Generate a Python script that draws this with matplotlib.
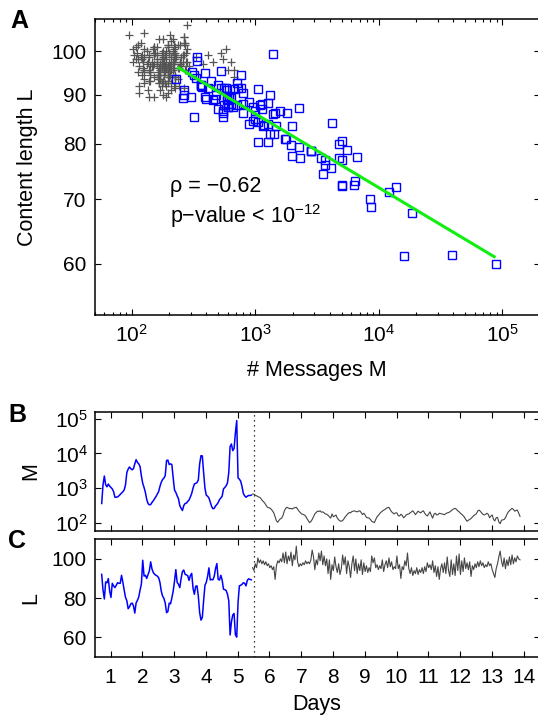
import numpy as np
import matplotlib
matplotlib.use('Agg')
import matplotlib.pyplot as plt
from matplotlib.ticker import LogLocator, NullLocator, FixedLocator, NullFormatter, FixedFormatter

plt.rcParams['font.family'] = ['Liberation Sans', 'DejaVu Sans']
plt.rcParams['mathtext.fontset'] = 'custom'
plt.rcParams['mathtext.rm'] = 'Liberation Sans'
plt.rcParams['mathtext.it'] = 'Liberation Sans:italic'
plt.rcParams['mathtext.bf'] = 'Liberation Sans:bold'
plt.rcParams['axes.unicode_minus'] = True

# ---------------- data ----------------
first_day = 0.72          # time of first hourly sample (days)
samples_per_day = 24

# log10 of number of messages M per hour, first period (blue)
logM_blue = [
    2.56, 3.10, 3.35, 3.10, 3.04, 3.12, 3.06, 3.02, 2.98, 2.90,
    2.74, 2.74, 2.75, 2.78, 2.82, 2.86, 2.90, 2.95, 3.10, 3.45,
    3.55, 3.61, 3.56, 3.53, 3.56, 3.70, 3.82, 3.74, 3.70, 3.62,
    3.35, 3.14, 3.02, 2.88, 2.68, 2.56, 2.52, 2.53, 2.59, 2.64,
    2.70, 2.76, 2.83, 2.90, 3.05, 3.17, 3.25, 3.29, 3.36, 3.795,
    3.809, 3.68, 3.70, 3.68, 3.30, 2.95, 2.88, 2.78, 2.70, 2.50,
    2.42, 2.36, 2.50, 2.56, 2.57, 2.62, 2.66, 2.75, 2.85, 3.00,
    3.12, 3.14, 3.16, 3.24, 3.70, 3.934, 3.929, 3.45, 3.00, 2.80,
    2.77, 2.72, 2.60, 2.48, 2.41, 2.42, 2.49, 2.53, 2.59, 2.67,
    2.72, 2.77, 2.98, 3.02, 3.07, 3.15, 3.45, 4.20, 4.27, 4.08,
    4.14, 4.59, 4.945, 3.30, 3.26, 3.20, 3.05, 2.85, 2.78, 2.74,
    2.77, 2.79, 2.79, 2.80]

# content length L per hour, first period (blue)
L_blue = [
    92.1, 84.0, 79.5, 88.2, 87.8, 89.9, 83.6, 80.3, 87.5, 86.2,
    85.3, 86.5, 87.8, 87.5, 87.5, 91.6, 88.0, 84.0, 80.3, 78.6,
    74.5, 75.5, 77.0, 77.4, 76.0, 72.3, 77.5, 78.8, 80.5, 84.1,
    87.2, 99.3, 91.2, 91.6, 90.0, 92.0, 93.8, 98.5, 94.8, 93.0,
    92.1, 91.6, 91.2, 90.4, 88.0, 83.5, 81.0, 79.8, 77.4, 72.5,
    73.1, 77.4, 77.0, 80.0, 83.5, 88.5, 94.5, 88.0, 87.0, 85.3,
    90.0, 93.5, 94.3, 92.1, 91.8, 91.4, 89.0, 91.5, 92.6, 85.0,
    81.9, 86.0, 86.2, 81.0, 72.5, 68.7, 70.0, 78.6, 86.5, 88.0,
    91.0, 95.4, 89.2, 89.5, 89.3, 91.0, 95.0, 97.6, 89.5, 89.2,
    91.6, 89.2, 84.5, 84.3, 83.8, 82.0, 78.6, 61.1, 67.8, 71.3,
    72.1, 61.2, 60.0, 77.7, 86.2, 86.5, 87.0, 87.8, 87.5, 86.2,
    89.0, 89.8, 89.5, 89.3]

# log10 of M per hour, second period (gray)
logM_gray = [
    2.83, 2.83, 2.80, 2.78, 2.76, 2.74, 2.72, 2.66, 2.62, 2.58,
    2.52, 2.46, 2.44, 2.43, 2.40, 2.35, 2.29, 2.18, 2.06, 2.02,
    2.08, 2.12, 2.14, 2.22, 2.35, 2.42, 2.45, 2.43, 2.41, 2.42,
    2.40, 2.43, 2.44, 2.45, 2.40, 2.34, 2.30, 2.26, 2.25, 2.23,
    2.20, 2.13, 2.07, 2.01, 2.04, 2.10, 2.18, 2.26, 2.30, 2.34,
    2.33, 2.35, 2.31, 2.32, 2.29, 2.26, 2.25, 2.22, 2.18, 2.14,
    2.26, 2.18, 2.20, 2.23, 2.14, 2.09, 2.06, 2.05, 2.07, 2.12,
    2.18, 2.22, 2.27, 2.30, 2.29, 2.33, 2.34, 2.35, 2.33, 2.32,
    2.34, 2.35, 2.30, 2.24, 2.28, 2.23, 2.16, 2.15, 2.14, 2.10,
    2.05, 2.03, 2.01, 2.10, 2.18, 2.22, 2.27, 2.31, 2.34, 2.37,
    2.39, 2.42, 2.44, 2.45, 2.38, 2.32, 2.29, 2.26, 2.29,
    2.29, 2.21, 2.20, 2.25, 2.22, 2.15, 2.18, 2.23, 2.25, 2.26,
    2.29, 2.32, 2.35, 2.30, 2.24, 2.29, 2.34, 2.31, 2.29, 2.33,
    2.35, 2.28, 2.23, 2.20, 2.26, 2.32, 2.22, 2.14, 2.25, 2.28,
    2.23, 2.24, 2.28, 2.27, 2.26, 2.25, 2.24, 2.27, 2.29, 2.30,
    2.32, 2.35, 2.38, 2.41, 2.42, 2.39, 2.35, 2.32, 2.28, 2.25,
    2.21, 2.17, 2.10, 2.05, 2.08, 2.10, 2.13, 2.17, 2.21, 2.24,
    2.26, 2.34, 2.37, 2.34, 2.29, 2.25, 2.23, 2.25, 2.28, 2.25,
    2.15, 2.20, 2.23, 2.10, 2.06, 2.15, 2.16, 2.03, 1.98, 2.08,
    2.09, 2.10, 2.15, 2.24, 2.31, 2.35, 2.39, 2.42, 2.39, 2.34,
    2.36, 2.37, 2.28, 2.19]

# content length L per hour, second period (gray)
L_gray = [
    95.5, 94.0, 97.5, 95.5, 100.5, 98.0, 99.5, 97.5, 99.0, 97.0,
    98.5, 96.5, 97.5, 95.5, 96.5, 94.5, 96.0, 89.5, 96.5, 99.0,
    98.0, 100.0, 98.5, 103.0, 98.0, 103.5, 97.5, 101.5, 99.0, 103.5,
    96.5, 102.0, 99.5, 106.5, 98.5, 96.0, 97.5, 96.5, 98.0, 97.0,
    99.0, 97.5, 98.5, 97.5, 99.5, 104.5, 101.0, 94.5, 99.5, 97.0,
    103.0, 99.0, 104.0, 97.0, 101.5, 96.5, 100.0, 92.5, 99.5, 89.5,
    97.0, 94.0, 101.0, 96.0, 93.0, 97.5, 92.0, 95.0, 102.0, 97.0,
    101.0, 92.5, 99.0, 96.0, 90.5, 97.5, 101.5, 94.0, 100.0, 92.5,
    97.5, 94.0, 99.5, 92.0, 98.0, 93.5, 96.5, 93.0, 95.5, 93.5,
    101.5, 98.0, 100.5, 95.5, 97.0, 94.5, 96.5, 95.0, 99.5, 93.5,
    97.0, 99.0, 95.5, 100.5, 96.0, 98.5, 94.5, 96.0, 95.0,
    101.5, 95.0, 97.0, 90.0, 96.0, 94.5, 99.0, 96.5, 103.0, 95.0,
    92.5, 95.5, 91.5, 94.0, 92.5, 95.5, 92.0, 94.5, 93.0, 95.5,
    92.5, 96.0, 93.5, 98.0, 95.5, 97.0, 94.5, 99.0, 93.0, 96.5,
    91.0, 96.0, 89.5, 95.0, 97.5, 93.0, 98.0, 92.5, 101.0, 94.0,
    91.0, 99.5, 92.0, 97.5, 91.5, 101.5, 94.0, 102.5, 92.0, 99.0,
    93.5, 100.5, 95.0, 98.0, 94.5, 98.5, 91.0, 96.5, 94.5, 97.5,
    95.5, 98.5, 96.0, 99.0, 96.5, 98.0, 95.5, 97.0, 96.0, 98.5,
    96.5, 97.5, 94.5, 92.5, 90.5, 95.0, 97.5, 101.0, 104.0, 99.0,
    96.0, 100.5, 95.0, 99.5, 96.5, 101.0, 97.0, 102.0, 97.5, 100.5,
    98.5, 101.5, 100.0, 99.5]

# fitted line (log-log) end points
fit_M = [234, 88000]
fit_L = [96.2, 60.9]
rho_text = "\u03c1 = \u22120.62"
p_text = "p\u2212value < 10$^{\u221212}$"
split_day = 5.5
day_ticks = list(range(1, 15))
L_ticks = [60, 70, 80, 90, 100]
L_ticks_C = [60, 80, 100]

# ---------------- derived ----------------
M_blue = 10 ** np.array(logM_blue)
M_gray = 10 ** np.array(logM_gray)
n_b, n_g = len(M_blue), len(M_gray)
t_all = first_day + np.arange(n_b + n_g) / samples_per_day
t_blue = t_all[:n_b]
t_gray = t_all[n_b:]

BLUE = '#0000ff'
GRAY_PT = '#555555'
GRAY_LN = '#454545'
GREEN = '#11ee11'
FS_TICK = 15
FS_LAB = 15.5

W, H = 538, 718
fig = plt.figure(figsize=(W / 100, H / 100), dpi=100)

def px_axes(l, t, r, b):
    return fig.add_axes([l / W, 1 - b / H, (r - l) / W, (b - t) / H])

def style(ax):
    ax.tick_params(which='both', direction='in', top=True, right=True,
                   labelsize=FS_TICK, width=0.8, colors='black')
    ax.tick_params(which='major', length=4)
    ax.tick_params(which='minor', length=2)
    for s in ax.spines.values():
        s.set_linewidth(1.1)

# ---------------- Panel A ----------------
axA = px_axes(94.7, 19, 539.5, 315.3)
axA.plot(M_gray, L_gray, linestyle='none', marker='+', ms=6.2, mew=0.9,
         color=GRAY_PT)
axA.plot(M_blue, L_blue, linestyle='none', marker='s', ms=5.5, mew=1.0,
         mfc='none', mec=BLUE)
axA.plot(fit_M, fit_L, color=GREEN, lw=2.2, solid_capstyle='butt')
axA.set_xscale('log')
axA.set_yscale('log')
axA.set_xlim(50, 2e5)
axA.set_ylim(53, 108)
axA.xaxis.set_major_locator(FixedLocator([1e2, 1e3, 1e4, 1e5]))
axA.xaxis.set_minor_locator(LogLocator(base=10, subs=np.arange(2, 10)))
axA.xaxis.set_minor_formatter(NullFormatter())
axA.yaxis.set_major_locator(FixedLocator(L_ticks))
axA.yaxis.set_major_formatter(FixedFormatter([str(v) for v in L_ticks]))
axA.yaxis.set_minor_locator(NullLocator())
style(axA)
axA.tick_params(axis='x', pad=6)
axA.tick_params(axis='y', pad=6)
axA.set_xlabel('# Messages M', fontsize=FS_LAB, va='center')
axA.xaxis.set_label_coords(0.5, -0.185)
axA.set_ylabel('Content length L', fontsize=FS_LAB, va='center')
axA.yaxis.set_label_coords(-0.151, 0.5)
axA.text(0.1695, 0.436, rho_text, transform=axA.transAxes, fontsize=FS_LAB,
         va='center', ha='left')
axA.text(0.1695, 0.335, p_text, transform=axA.transAxes, fontsize=FS_LAB,
         va='center', ha='left')

# ---------------- Panel B ----------------
axB = px_axes(94.7, 412, 539.5, 530.7)
axB.plot(t_blue, M_blue, color=BLUE, lw=1.1)
axB.plot(t_gray, M_gray, color=GRAY_LN, lw=0.8)
axB.axvline(split_day, color='black', lw=0.9, ls=(0, (1, 3)))
axB.set_yscale('log')
axB.set_ylim(60, 1.55e5)
axB.set_xlim(0.5, 14.5)
axB.yaxis.set_major_locator(FixedLocator([1e2, 1e3, 1e4, 1e5]))
axB.yaxis.set_minor_locator(LogLocator(base=10, subs=np.arange(2, 10)))
axB.yaxis.set_minor_formatter(NullFormatter())
axB.set_xticks(day_ticks)
style(axB)
axB.tick_params(axis='x', labelbottom=False)
axB.tick_params(axis='y', pad=5)
axB.set_ylabel('M', fontsize=FS_LAB, va='center')
axB.yaxis.set_label_coords(-0.143, 0.5)

# ---------------- Panel C ----------------
axC = px_axes(94.7, 539.3, 539.5, 656.7)
axC.plot(t_blue, L_blue, color=BLUE, lw=1.1)
axC.plot(t_gray, L_gray, color=GRAY_LN, lw=0.8)
axC.axvline(split_day, color='black', lw=0.9, ls=(0, (1, 3)))
axC.set_xlim(0.5, 14.5)
axC.set_ylim(50, 110)
axC.set_yticks(L_ticks_C)
axC.set_xticks(day_ticks)
style(axC)
axC.tick_params(axis='x', pad=8)
axC.tick_params(axis='y', pad=6)
axC.set_xlabel('Days', fontsize=FS_LAB, va='center')
axC.xaxis.set_label_coords(0.5, -0.41)
axC.set_ylabel('L', fontsize=FS_LAB, va='center')
axC.yaxis.set_label_coords(-0.143, 0.5)

# panel letters
for letter, x, y in [('A', 19.5, 21), ('B', 17.2, 415.3), ('C', 16.7, 541)]:
    fig.text(x / W, 1 - y / H, letter, fontsize=18, fontweight='bold',
             ha='center', va='center')

fig.savefig('out.png', dpi=100)
